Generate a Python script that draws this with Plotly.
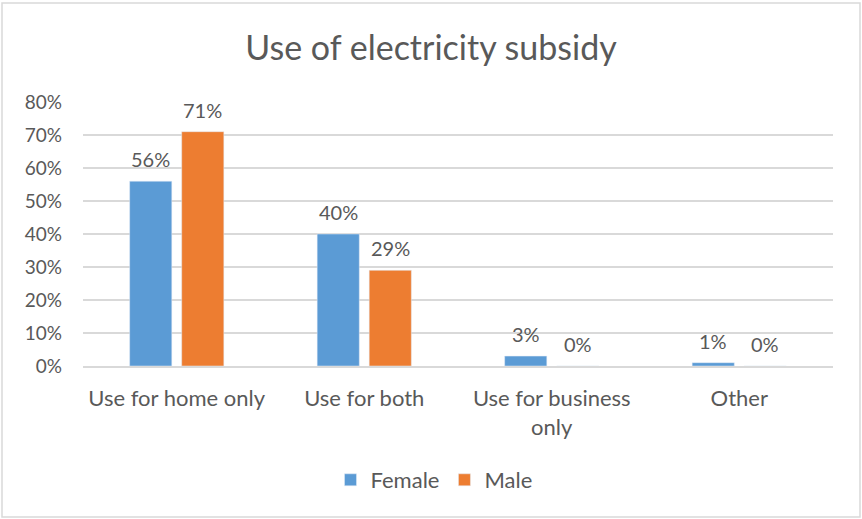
import plotly.graph_objects as go

categories = ["Use for home only", "Use for both", "Use for business<br>only", "Other"]
female = [0.56, 0.40, 0.03, 0.01]
male = [0.71, 0.29, 0.0, 0.0]

TEXT = "#595959"
FONT = "Lato, Carlito, Calibri, sans-serif"
COLORS = {"Female": "#5B9BD5", "Male": "#ED7D31"}

fig = go.Figure()
for name, vals in [("Female", female), ("Male", male)]:
    fig.add_trace(go.Bar(x=categories, y=vals, name=name,
                         marker_color=COLORS[name]))

# data labels, a little higher above the bars than plotly's own "outside" text
for shift, vals in [(-26, female), (26, male)]:
    for cat, v in zip(categories, vals):
        fig.add_annotation(x=cat, y=v, xshift=shift, yshift=8,
                           yanchor="bottom", showarrow=False,
                           text=f"{v:.0%}", font=dict(size=20, color=TEXT))

# light border around the whole chart
L, R, T, B = 83, 29, 102, 153
pw, ph = 862 - L - R, 519 - T - B
fig.add_shape(
    type="rect", xref="paper", yref="paper",
    x0=(2 - L) / pw, x1=(860 - L) / pw,
    y0=-(517 - (519 - B)) / ph, y1=((519 - B) - 3) / ph,
    line=dict(color="#D9D9D9", width=1.5), fillcolor="rgba(0,0,0,0)",
)

fig.update_layout(
    width=862, height=519,
    title=dict(text="Use of electricity subsidy", x=0.5, xanchor="center",
               y=1 - 48 / 519, yanchor="middle",
               font=dict(size=34, color=TEXT, family=FONT)),
    font=dict(family=FONT, color=TEXT, size=18),
    plot_bgcolor="white", paper_bgcolor="white",
    barmode="group", bargap=0.445, bargroupgap=0.19,
    margin=dict(l=L, r=R, t=T, b=B),
    legend=dict(orientation="h", x=0.468, xanchor="center",
                yref="container", y=1 - 480 / 519, yanchor="middle",
                font=dict(size=22, color=TEXT), itemwidth=30),
    showlegend=True,
)
fig.update_yaxes(range=[0, 0.8], dtick=0.1, tickformat=".0%",
                 gridcolor="#D9D9D9", gridwidth=1.5, zeroline=False,
                 showline=False, ticks="", tickfont=dict(size=19),
                 ticklabelstandoff=20)
fig.update_xaxes(showline=True, linecolor="#D9D9D9", linewidth=1.5,
                 ticks="", tickfont=dict(size=22), ticklabelstandoff=12)

fig.write_html("out.html", config={"displayModeBar": False},
               post_script="document.body.style.margin='0';")
